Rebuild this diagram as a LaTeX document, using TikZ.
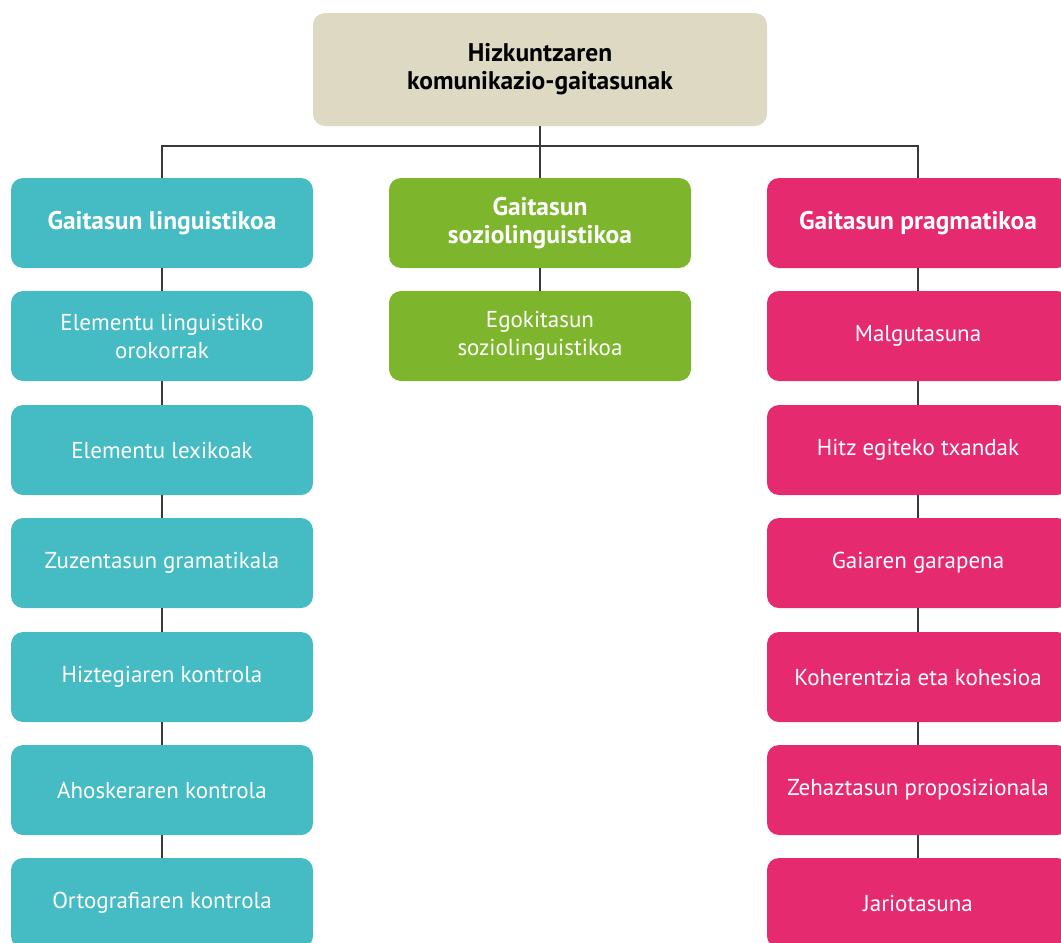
\documentclass[tikz,border=0pt]{standalone}
\usepackage{fontspec}
\setmainfont{PT Sans}
\definecolor{beige}{HTML}{DDD9C3}
\definecolor{turkesa}{HTML}{45BBC3}
\definecolor{berdea}{HTML}{7DB62D}
\definecolor{arrosa}{HTML}{E52A6F}
\definecolor{lerroa}{HTML}{3A3A3A}
\begin{document}
\begin{tikzpicture}[x=1pt, y=-1pt]

	\tikzstyle{kutxa}=[rectangle, rounded corners=12pt, minimum width=302pt, minimum height=90pt, align=center, text=white, font=\fontsize{23}{28}\selectfont, inner sep=0pt]
	\tikzstyle{buru}=[kutxa, font=\fontsize{25.5}{28}\selectfont\bfseries]
	\tikzstyle{lotura}=[draw=lerroa, line width=1.5pt]

	\useasboundingbox (0,0) rectangle (1061,943);
	\clip (0,0) rectangle (1061,943);

	\node[kutxa, fill=beige, text=black, minimum width=454pt, minimum height=113pt, font=\fontsize{25.5}{28}\selectfont\bfseries] (top) at (540, 69.5) {Hizkuntzaren\\komunikazio-gaitasunak};

	\coordinate (bar) at (540, 146);

	% GAITASUN LINGUISTIKOA
	\node[buru, fill=turkesa] (l_0) at (162, 223) {Gaitasun linguistikoa};
	\node[kutxa, fill=turkesa] (l_1) at (162, 336) {Elementu linguistiko\\orokorrak};
	\node[kutxa, fill=turkesa] (l_2) at (162, 450) {Elementu lexikoak};
	\node[kutxa, fill=turkesa] (l_3) at (162, 563) {Zuzentasun gramatikala};
	\node[kutxa, fill=turkesa] (l_4) at (162, 677) {Hiztegiaren kontrola};
	\node[kutxa, fill=turkesa] (l_5) at (162, 790) {Ahoskeraren kontrola};
	\node[kutxa, fill=turkesa] (l_6) at (162, 903) {Ortografiaren kontrola};

	% GAITASUN SOZIOLINGUISTIKOA
	\node[buru, fill=berdea] (m_0) at (540, 223) {Gaitasun\\soziolinguistikoa};
	\node[kutxa, fill=berdea] (m_1) at (540, 336) {Egokitasun\\soziolinguistikoa};

	% GAITASUN PRAGMATIKOA
	\node[buru, fill=arrosa] (r_0) at (918, 223) {Gaitasun pragmatikoa};
	\node[kutxa, fill=arrosa] (r_1) at (918, 336) {Malgutasuna};
	\node[kutxa, fill=arrosa] (r_2) at (918, 450) {Hitz egiteko txandak};
	\node[kutxa, fill=arrosa] (r_3) at (918, 563) {Gaiaren garapena};
	\node[kutxa, fill=arrosa] (r_4) at (918, 677) {Koherentzia eta kohesioa};
	\node[kutxa, fill=arrosa] (r_5) at (918, 790) {Zehaztasun proposizionala};
	\node[kutxa, fill=arrosa] (r_6) at (918, 903) {Jariotasuna};

	%%%%%%%% LOTURAK %%%%%%%%
	\draw[lotura] (top) -- (m_0);
	\draw[lotura] (l_0.north) |- (bar) -| (r_0.north);
	\draw[lotura] (m_0) -- (m_1);
	\foreach \i [count=\j from 1] in {0,...,5} {
		\draw[lotura] (l_\i) -- (l_\j);
		\draw[lotura] (r_\i) -- (r_\j);
	}
\end{tikzpicture}
\end{document}
